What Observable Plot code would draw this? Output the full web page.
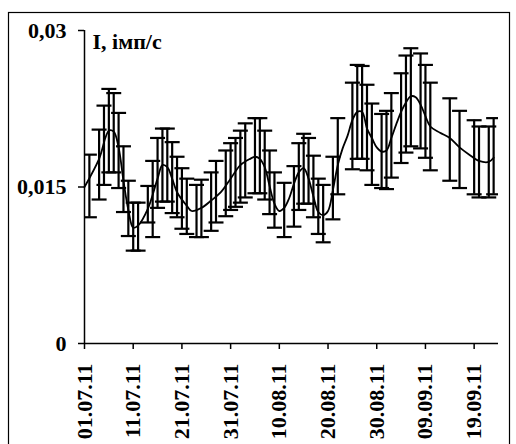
<!DOCTYPE html>
<html>
<head>
<meta charset="utf-8">
<script src="https://cdn.jsdelivr.net/npm/d3@7"></script>
<script src="https://cdn.jsdelivr.net/npm/@observablehq/plot@0.6"></script>
<style>
  body { margin: 0; background: #fff; }
  #chart { position: relative; width: 516px; height: 444px; overflow: hidden; }
</style>
</head>
<body>
<div id="chart"></div>
<script>
// Measurement days with upper / lower ends of the error interval (imp/s)
const barDates = [
  "2011-07-02","2011-07-04","2011-07-05","2011-07-06","2011-07-07","2011-07-08","2011-07-09","2011-07-10",
  "2011-07-11","2011-07-12","2011-07-14","2011-07-15","2011-07-16","2011-07-17","2011-07-18","2011-07-19",
  "2011-07-20","2011-07-21","2011-07-22","2011-07-24","2011-07-25","2011-07-27","2011-07-28","2011-07-30",
  "2011-07-31","2011-08-01","2011-08-02","2011-08-03","2011-08-05","2011-08-06","2011-08-07","2011-08-08",
  "2011-08-09","2011-08-11","2011-08-13","2011-08-14","2011-08-15","2011-08-16","2011-08-17","2011-08-18",
  "2011-08-19","2011-08-21","2011-08-22","2011-08-25","2011-08-26","2011-08-27","2011-08-28","2011-08-29",
  "2011-08-31","2011-09-01","2011-09-02","2011-09-04","2011-09-05","2011-09-06","2011-09-08","2011-09-09",
  "2011-09-10","2011-09-14","2011-09-16","2011-09-19","2011-09-20","2011-09-22","2011-09-23"
];
const barHigh = [
  0.0181,0.0205,0.0228,0.0244,0.0240,0.0221,0.0189,0.0156,
  0.0135,0.0135,0.0151,0.0175,0.0197,0.0206,0.0206,0.0193,
  0.0179,0.0168,0.0158,0.0152,0.0157,0.0164,0.0175,0.0185,
  0.0192,0.0197,0.0204,0.0211,0.0216,0.0216,0.0204,0.0185,
  0.0164,0.0154,0.0170,0.0192,0.0201,0.0197,0.0180,0.0158,
  0.0152,0.0179,0.0216,0.0250,0.0267,0.0266,0.0248,0.0230,
  0.0220,0.0223,0.0240,0.0259,0.0276,0.0283,0.0278,0.0267,
  0.0250,0.0235,0.0223,0.0214,0.0208,0.0208,0.0216
];
const barLow = [
  0.0121,0.0138,0.0152,0.0164,0.0164,0.0149,0.0126,0.0103,
  0.0089,0.0089,0.0116,0.0102,0.0130,0.0136,0.0136,0.0125,
  0.0121,0.0110,0.0105,0.0102,0.0102,0.0108,0.0116,0.0122,
  0.0128,0.0131,0.0135,0.0140,0.0144,0.0144,0.0138,0.0124,
  0.0111,0.0102,0.0112,0.0128,0.0134,0.0134,0.0121,0.0105,
  0.0097,0.0119,0.0143,0.0167,0.0177,0.0177,0.0166,0.0152,
  0.0149,0.0148,0.0159,0.0173,0.0183,0.0189,0.0187,0.0178,
  0.0166,0.0156,0.0149,0.0143,0.0140,0.0140,0.0143
];

// Smoothed intensity curve
const curveDates = [
  "2011-07-01","2011-07-04","2011-07-06","2011-07-07","2011-07-08","2011-07-09","2011-07-10","2011-07-11",
  "2011-07-12","2011-07-14","2011-07-16","2011-07-17","2011-07-18","2011-07-19","2011-07-20","2011-07-22",
  "2011-07-23","2011-07-25","2011-07-27","2011-07-29","2011-07-31","2011-08-02","2011-08-04","2011-08-05",
  "2011-08-06","2011-08-07","2011-08-08","2011-08-09","2011-08-10","2011-08-11","2011-08-12","2011-08-13",
  "2011-08-14","2011-08-15","2011-08-16","2011-08-17","2011-08-18","2011-08-19","2011-08-20","2011-08-21",
  "2011-08-22","2011-08-23","2011-08-24","2011-08-25","2011-08-26","2011-08-27","2011-08-28","2011-08-29",
  "2011-08-30","2011-08-31","2011-09-01","2011-09-02","2011-09-03","2011-09-04","2011-09-05","2011-09-06",
  "2011-09-07","2011-09-08","2011-09-09","2011-09-10","2011-09-12","2011-09-14","2011-09-16","2011-09-18",
  "2011-09-20","2011-09-22","2011-09-23"
];
const curveValues = [
  0.0150,0.0177,0.0204,0.0203,0.0188,0.0156,0.0128,0.0111,
  0.0113,0.0129,0.0158,0.0171,0.0169,0.0158,0.0145,0.0132,
  0.0127,0.0130,0.0137,0.0145,0.0158,0.0171,0.0177,0.0179,
  0.0177,0.0169,0.0151,0.0134,0.0127,0.0130,0.0139,0.0153,
  0.0164,0.0168,0.0158,0.0141,0.0126,0.0123,0.0127,0.0147,
  0.0171,0.0187,0.0199,0.0214,0.0222,0.0222,0.0206,0.0197,
  0.0188,0.0184,0.0185,0.0197,0.0210,0.0222,0.0231,0.0237,
  0.0236,0.0229,0.0218,0.0208,0.0202,0.0197,0.0188,0.0181,
  0.0175,0.0174,0.0178
];

const tickDates = ["2011-07-01","2011-07-11","2011-07-21","2011-07-31","2011-08-10","2011-08-20","2011-08-30","2011-09-09","2011-09-19"];
const yTicks = [0, 0.015, 0.03];
const yLabel = "I, імп/с";
const xStart = "2011-07-01";
const xEnd = "2011-09-24";

const parse = d3.utcParse("%Y-%m-%d");
const bars = barDates.map((d, i) => ({date: parse(d), hi: barHigh[i], lo: barLow[i]}));
const curve = curveDates.map((d, i) => ({date: parse(d), value: curveValues[i]}));

// horizontal cap symbol for the error bars
const capSymbol = {
  draw(ctx, size) {
    const w = Math.sqrt(size / Math.PI);
    ctx.moveTo(-w, 0);
    ctx.lineTo(w, 0);
  }
};

const font = '"Liberation Serif", "Times New Roman", serif';

const chart = Plot.plot({
  width: 516,
  height: 444,
  marginLeft: 84,
  marginRight: 18,
  marginTop: 30,
  marginBottom: 101,
  style: {fontFamily: font, fontSize: "22px", fontWeight: "bold", color: "#000", background: "#fff"},
  x: {type: "utc", domain: [parse(xStart), parse(xEnd)]},
  y: {domain: [0, 0.03]},
  marks: [
    Plot.ruleX(bars, {x: "date", y1: "lo", y2: "hi", stroke: "#000", strokeWidth: 2.2, clip: true}),
    Plot.dot(bars, {x: "date", y: "hi", symbol: capSymbol, r: 7.5, stroke: "#000", strokeWidth: 2.2, fill: "none", clip: true}),
    Plot.dot(bars, {x: "date", y: "lo", symbol: capSymbol, r: 7.5, stroke: "#000", strokeWidth: 2.2, fill: "none", clip: true}),
    Plot.line(curve, {x: "date", y: "value", curve: "catmull-rom", stroke: "#000", strokeWidth: 1.8}),
    Plot.ruleX([parse(xStart)], {y1: 0, y2: 0.03, stroke: "#000", strokeWidth: 1.5}),
    Plot.ruleY([0], {stroke: "#000", strokeWidth: 1.5}),
    Plot.axisY({ticks: yTicks, tickFormat: v => String(v).replace(".", ","), tickSize: 6, tickPadding: 12, label: null, fontSize: 22, strokeWidth: 1.5}),
    Plot.axisX({ticks: tickDates.map(parse), tickFormat: d3.utcFormat("%d.%m.%y"), tickRotate: -90, tickSize: 6, tickPadding: 14, label: null, fontSize: 22, strokeWidth: 1.5}),
    Plot.text([yLabel], {text: d => d, frameAnchor: "top-left", dx: 8, dy: 3, textAnchor: "start", fontSize: 22, fontWeight: "bold"})
  ]
});

// outer border of the figure
d3.select(chart).append("rect")
  .attr("x", 8.5).attr("y", 12.5)
  .attr("width", 501).attr("height", 460)
  .attr("fill", "none").attr("stroke", "#000").attr("stroke-width", 1.2);

document.getElementById("chart").append(chart);
</script>
</body>
</html>
